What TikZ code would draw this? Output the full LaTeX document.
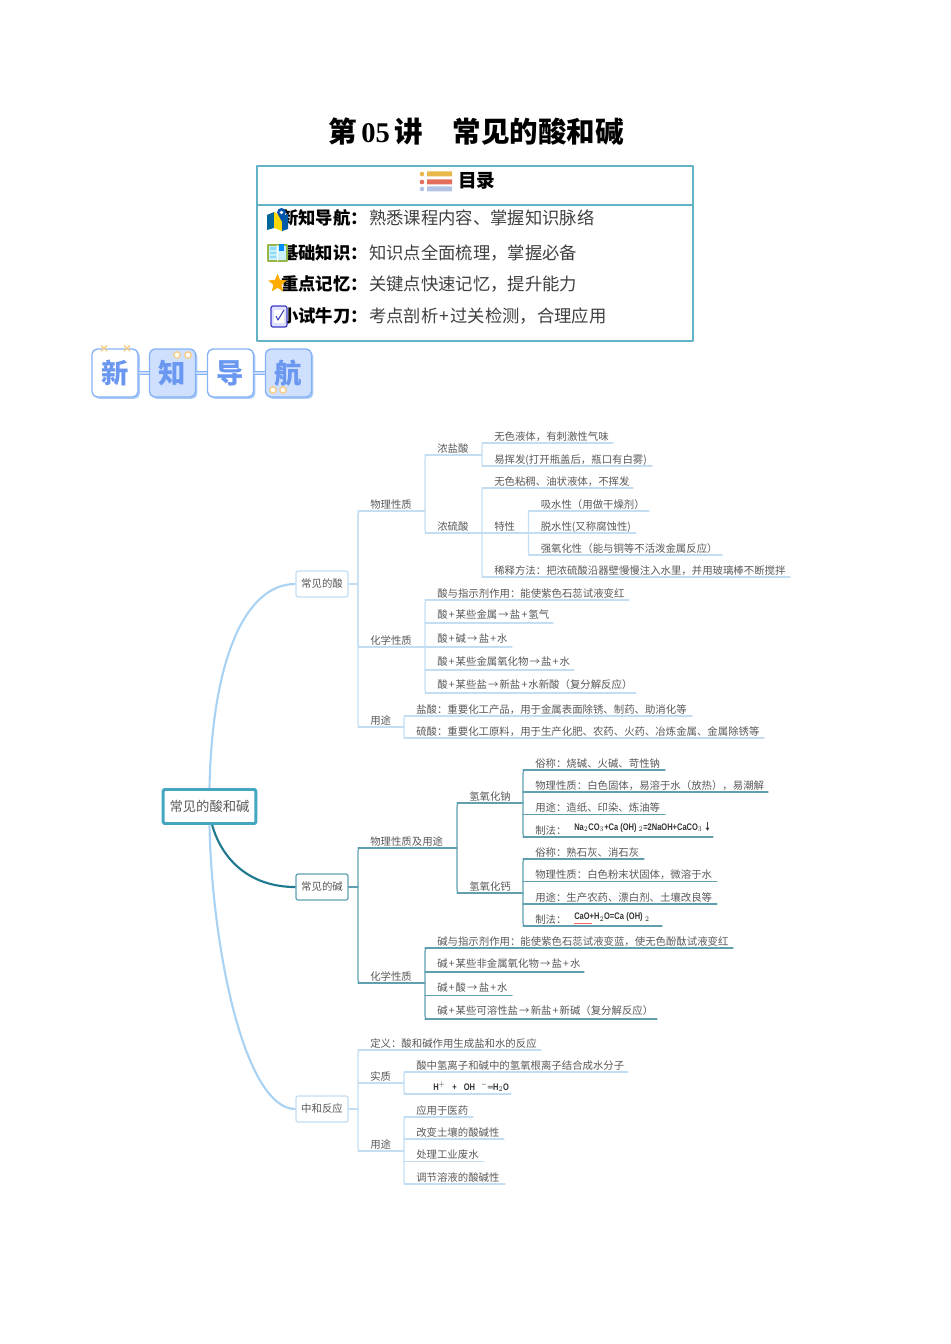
\documentclass[tikz,border=0pt]{standalone}
\usepackage{fontspec}
\setmainfont{Noto Sans CJK SC}
\newfontfamily\latinbf{Liberation Serif}[BoldFont={Liberation Serif Bold}]
\newfontfamily\formfont{Liberation Sans}[BoldFont={Liberation Sans Bold}]
\usetikzlibrary{shapes.geometric,shadows}
\definecolor{acidc}{HTML}{C3DEF3}
\definecolor{basec}{HTML}{5F9FB0}
\definecolor{edgeacid}{HTML}{A9D2F3}
\definecolor{edgebase}{HTML}{1F7A8F}
\definecolor{rootc}{HTML}{45A6C2}
\definecolor{mapgrey}{HTML}{595959}
\definecolor{tocc}{HTML}{62B3C6}
\definecolor{bannerc}{HTML}{85B1F5}
\definecolor{bannerfill}{HTML}{CFE0FF}
\definecolor{bannertxt}{HTML}{6A97F0}
\definecolor{bannershade}{HTML}{ABCBF6}
\definecolor{dotc}{HTML}{F5CE8C}
\newcommand\plusop{\kern.85pt+\kern.85pt}
\newcommand\toop{\kern.85pt→\kern.85pt}
\newcommand\lift[1]{\raisebox{1pt}{#1}}
\newcommand\narrowform[1]{\scalebox{.88}[1.12]{#1}}
\tikzset{
 leaf/.style={anchor=south west, inner xsep=9pt, inner ysep=.4pt, text depth=1.5pt, text=mapgrey, font=\fontsize{7.8}{9}\selectfont},
 acidedge/.style={draw=acidc, line width=.8pt, line cap=round},
 baseedge/.style={draw=basec, line width=.8pt, line cap=round},
 branchbox/.style={draw=#1, line width=.9pt, rounded corners=1.5pt, fill=white, minimum width=39pt, minimum height=19.5pt, inner sep=0pt, text=mapgrey, font=\fontsize{7.8}{9}\selectfont},
 formula/.style={anchor=west, inner sep=0pt, text=black!80, font=\formfont\bfseries\fontsize{6.4}{8}\selectfont},
 toclabel/.style={anchor=west, inner sep=0pt, font=\fontsize{13}{15}\selectfont\bfseries},
 tocbody/.style={anchor=west, inner sep=0pt, text=black!75, font=\fontsize{13}{15}\selectfont},
 bannerbox/.style={draw=bannerc, line width=1pt, rounded corners=4pt, minimum width=34.5pt, minimum height=36pt, inner sep=0pt, text=bannertxt, font=\fontsize{20.5}{22}\selectfont\bfseries, drop shadow={shadow xshift=1.4pt, shadow yshift=-1.4pt, opacity=1, fill=bannershade}},
}
\begin{document}
\begin{tikzpicture}[x=.75pt, y=-.75pt, line join=round]
 \useasboundingbox (0,0) rectangle (950,1344);

 \node[font=\fontsize{21.4}{24}\selectfont\bfseries] (title) at (476,132) {第\,{\latinbf 05}\,讲\hskip 22pt 常见的酸和碱};

 \draw[tocc, line width=1.1pt] (257,166) rectangle (693,341) (257,205) -- (693,205);
 \node[anchor=west, inner sep=0pt, font=\fontsize{14}{16}\selectfont\bfseries] (toctitle) at (458,181) {目录};
 \foreach \yb/\cc in {174/E8B84A, 182/E36E5C, 189/B3C3E6}
 {
 \definecolor{barc}{HTML}{\cc}
 \fill[barc] (422,\yb) circle (2.3) (427,\yb-2.5) rectangle (452,\yb+2.5);
 }
 \foreach \nm/\yb/\lab/\txt in {ta/218/新知导航：/熟悉课程内容、掌握知识脉络, tb/253/基础知识：/知识点全面梳理，掌握必备, tc/284/重点记忆：/关键点快速记忆，提升能力, td/316/小试牛刀：/考点剖析\plusop 过关检测，合理应用}
 {
 \node[toclabel] (\nm l) at (281,\yb) {\lab};
 \node[tocbody] (\nm b) at (369,\yb) {\txt};
 }

 \fill[white] (267,214) rectangle (286,232);
 \fill[teal!80!blue] (267,215) -- (274,212) -- (274,228) -- (267,230) -- cycle;
 \fill[yellow!75!orange] (274,212) -- (282,216) -- (282,231) -- (274,228) -- cycle;
 \fill[teal!70!blue] (282,216) -- (288,214) -- (288,229) -- (282,231) -- cycle;
 \fill[blue!35!teal] (281.5,221) -- (277,212.5) arc (180:360:4.5) -- cycle;
 \fill[white] (281.5,212.5) circle (1.8);
 \fill[white] (267,244) rectangle (288,262);
 \draw[olive!60!green!70, line width=1pt, fill=cyan!20] (268,245) rectangle (287,261);
 \fill[cyan!45] (270,247) rectangle (276,250) (270,252) rectangle (276,254) (270,256) rectangle (276,258);
 \draw[white, line width=1pt] (277.5,245) -- (277.5,261);
 \fill[blue!45!cyan] (279,244) rectangle (284,251);
 \node[star, star points=5, star point ratio=2.2, fill=orange!65!yellow, minimum size=14.5pt, inner sep=0pt] (staricon) at (277.5,283.5) {};
 \draw[blue!55!gray, fill=blue!12, line width=.9pt, rounded corners=1.5pt] (271,306) rectangle (287,327);
 \fill[white] (274,310) rectangle (284,323);
 \draw[blue!50!gray, line width=.8pt] (276,316) -- (278,320) -- (284,310);

 \foreach \nm/\cx/\ch/\bg in {xin/115/新/white, zhi/172.5/知/bannerfill, dao/230.5/导/white, hang/288.5/航/bannerfill}
 \node[bannerbox, fill=\bg] (\nm) at (\cx,373) {\raisebox{-2.5pt}{\ch}};
 \foreach \a/\b in {xin/zhi, zhi/dao, dao/hang}
 \draw[bannerc, line width=.6pt, double=bannerfill, double distance=1.6pt] (\a) -- (\b);
 \foreach \xb in {104,127}
 \draw[dotc, line width=1.1pt] (\xb-3,345.5) -- (\xb+3,351) (\xb-3,351) -- (\xb+3,345.5);
 \foreach \xb/\yb in {177/355, 188/355, 273/390, 283/390}
 \draw[dotc, line width=1.1pt, fill=white] (\xb,\yb) circle (3.2);

 \node[draw=rootc, line width=2.2pt, rounded corners=1pt, fill=white, minimum width=69.5pt, minimum height=25.5pt, inner sep=0pt, text=mapgrey, font=\fontsize{10}{12}\selectfont] (root) at (209.5,806.5) {常见的酸和碱};
 \node[branchbox=acidc] (acid) at (322,584) {常见的酸};
 \node[branchbox=basec] (base) at (322,887) {常见的碱};
 \node[branchbox=acidc] (neut) at (322,1109) {中和反应};
 \draw[edgeacid, line width=1.6pt] (root.north) .. controls (212,660) and (245,584) .. (acid.west);
 \draw[edgeacid, line width=1.6pt] (root.south) .. controls (212,950) and (245,1109) .. (neut.west);
 \draw[edgebase, line width=1.6pt] ([xshift=2pt]root.south) .. controls (222,860) and (250,887) .. (base.west);

 \foreach \nm/\xa/\xb/\yb/\txt in {
 aphys/358/425/511/物理性质, hcl/425/482/455/浓盐酸, sulf/425/482/533/浓硫酸,
 hcla/482/613/443/无色液体，有刺激性气味, hclb/482/652/466/易挥发(打开瓶盖后，瓶口有白雾),
 sulfa/482/633/488/无色粘稠、油状液体，不挥发, sulfb/482/528.5/533/特性, sulfc/482/790/577/稀释方法：把浓硫酸沿器壁慢慢注入水里，并用玻璃棒不断搅拌,
 spa/528.5/649/511/吸水性（用做干燥剂）, spb/528.5/636/533/脱水性(又称腐蚀性), spc/528.5/722/555/强氧化性（能与铜等不活泼金属反应）,
 achem/358/425/647/化学性质,
 aca/425/629/600/酸与指示剂作用：能使紫色石蕊试液变红, acb/425/553/623/\lift{酸\plusop 某些金属\toop 盐\plusop 氢气}, acc/425/512/647/\lift{酸\plusop 碱\toop 盐\plusop 水}, acd/425/574/670/\lift{酸\plusop 某些金属氧化物\toop 盐\plusop 水}, ace/425/636/693/\lift{酸\plusop 某些盐\toop 新盐\plusop 水新酸（复分解反应）},
 ause/358/404/727/用途, aua/404/692/716/盐酸：重要化工产品，用于金属表面除锈、制药、助消化等, aub/404/764/738/硫酸：重要化工原料，用于生产化肥、农药、火药、冶炼金属、金属除锈等,
 ndef/358/541/1050/定义：酸和碱作用生成盐和水的反应, ness/358/404/1083/实质,
 nea/404/628/1072/酸中氢离子和碱中的氢氧根离子结合成水分子, neb/404/511/1094/{},
 nuse/358/404/1151/用途, nua/404/473/1117/应用于医药, nub/404/504/1139/改变土壤的酸碱性, nuc/404/484/1161.5/处理工业废水, nud/404/505/1184/调节溶液的酸碱性}
 {
 \node[leaf] (\nm) at (\xa,\yb) {\txt};
 \draw[acidedge] (\nm.south west) -- (\xb,\yb);
 }
 \foreach \nm/\xa/\xb/\yb/\txt in {
 bphys/358/457/848/物理性质及用途, naoh/457/523/803/氢氧化钠, caoh/457/523/893/氢氧化钙,
 naa/523/665/770/俗称：烧碱、火碱、苛性钠, nab/523/768/792/物理性质：白色固体，易溶于水（放热），易潮解, nac/523/665/814.5/用途：造纸、印染、炼油等, nad/523/713/837/制法：,
 caa/523/644/859/俗称：熟石灰、消石灰, cab/523/717/881.5/物理性质：白色粉末状固体，微溶于水, cac/523/717/904/用途：生产农药、漂白剂、土壤改良等, cad/523/662/926/制法：,
 bchem/358/425/983/化学性质,
 bca/425/733/948/碱与指示剂作用：能使紫色石蕊试液变蓝，使无色酚酞试液变红, bcb/425/584/972/\lift{碱\plusop 某些非金属氧化物\toop 盐\plusop 水}, bcc/425/512/995.5/\lift{碱\plusop 酸\toop 盐\plusop 水}, bcd/425/657/1019/\lift{碱\plusop 某些可溶性盐\toop 新盐\plusop 新碱（复分解反应）}}
 {
 \node[leaf] (\nm) at (\xa,\yb) {\txt};
 \draw[baseedge] (\nm.south west) -- (\xb,\yb);
 }

 \node[formula] (fna) at (574,827) {\narrowform{Na$_2$CO$_3$+Ca (OH) $_2$=2NaOH+CaCO$_3$\,{\fontspec{Noto Sans CJK SC}\bfseries ↓}}};
 \node[formula] (fca) at (574,917) {\narrowform{CaO+H$_2$O=Ca\,\,(OH)\,\,$_2$\kern2pt}};
 \node[formula] (fne) at (433,1086.5) {\narrowform{H$^+$\hspace{6pt}+\hspace{6pt}OH\hspace{5pt}$^-$═H$_2$O}};
 \draw[red!60, line width=.3pt] (fca.south west) ++(0,1.5) -- ++(18,0);

 \foreach \a/\b in {aphys/achem, aphys/ause, ndef/nuse, hcla/hclb, sulfa/sulfc, spa/spc, aca/ace, aua/aub, nea/neb, nua/nud}
 \draw[acidedge, rounded corners=2pt] (\a.south west) ++(4,0) -- (\a.south west) -- (\b.south west) -- ++(4,0);
 \foreach \a/\b in {bphys/bchem, naa/nad, caa/cad, bca/bcd}
 \draw[baseedge, rounded corners=2pt] (\a.south west) ++(4,0) -- (\a.south west) -- (\b.south west) -- ++(4,0);
 \draw[acidedge, rounded corners=2pt] (hcl.south west) ++(4,0) -- (hcl.south west) -- (sulf.south west) -- ++(4,0);
 \draw[baseedge, rounded corners=2pt] (naoh.south west) ++(4,0) -- (naoh.south west) -- (caoh.south west) -- ++(4,0);

 \draw[acidedge] (acid.east) -- (acid.east -| aphys.south west);
 \draw[baseedge] (base.east) -- (base.east -| bphys.south west);
 \draw[acidedge] (neut.east) -- (neut.east -| ndef.south west);
\end{tikzpicture}
\end{document}
